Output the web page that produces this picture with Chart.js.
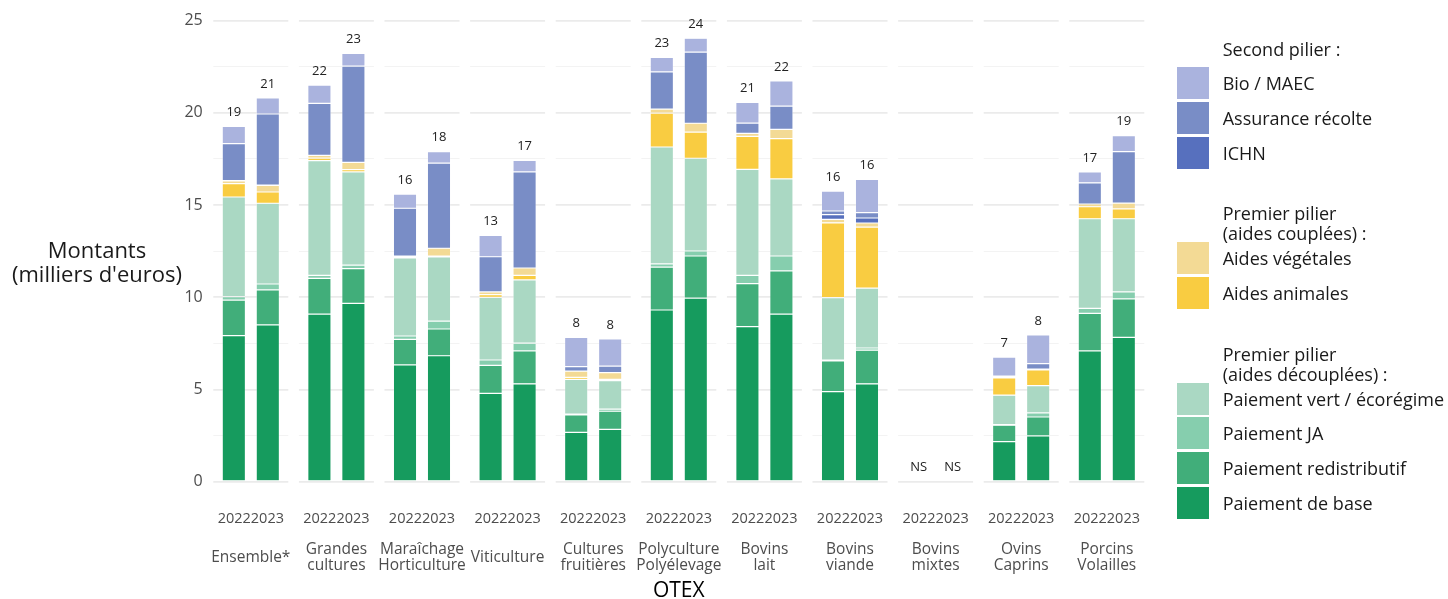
<!DOCTYPE html>
<html><head><meta charset="utf-8">
<script src="https://cdn.jsdelivr.net/npm/chart.js@4.4.1/dist/chart.umd.min.js"></script>
<style>
body{margin:0;background:#fff;}
#wrap{position:relative;width:1448px;height:599px;font-family:'Open Sans',sans-serif;overflow:hidden;}
#c{position:absolute;left:0;top:0;}
#ytitle{position:absolute;left:0;width:194px;top:237.3px;text-align:center;font-size:22px;line-height:24px;color:#1a1a1a;}
.lg{position:absolute;left:1177px;}
.lg .hd{font-size:18px;line-height:20px;color:#1a1a1a;margin-left:45.7px;white-space:nowrap;}
.lg .it{position:relative;height:32px;margin-bottom:2.7px;}
.lg .sw{position:absolute;left:0;top:0;width:32px;height:32px;}
.lg .tx{position:absolute;left:45.7px;top:0;line-height:32px;font-size:18px;color:#1a1a1a;white-space:nowrap;}
</style></head>
<body>
<div id="wrap">
<canvas id="c" width="1448" height="599"></canvas>
<div id="ytitle">Montants<br>(milliers d'euros)</div>
<div id="legend"></div>
</div>
<script>
// ---- categories & tick labels ----
const groups = [['Ensemble*'], ['Grandes','cultures'], ['Maraîchage','Horticulture'], ['Viticulture'], ['Cultures','fruitières'], ['Polyculture','Polyélevage'], ['Bovins','lait'], ['Bovins','viande'], ['Bovins','mixtes'], ['Ovins','Caprins'], ['Porcins','Volailles']];
const years = ['2022','2023'];
const labels2022 = ['19','22','16','13','8','23','21','16','NS','7','17'];
const labels2023 = ['21','23','18','17','8','24','22','16','NS','8','19'];

// ---- series values (milliers d'euros) ----
const base2022 = [7.92, 9.09, 6.33, 4.79, 2.68, 9.31, 8.41, 4.88, null, 2.17, 7.09];
const base2023 = [8.50, 9.67, 6.83, 5.31, 2.84, 9.96, 9.09, 5.31, null, 2.48, 7.83];
const redis2022 = [1.93, 1.94, 1.39, 1.52, 0.94, 2.33, 2.33, 1.67, null, 0.89, 2.04];
const redis2023 = [1.90, 1.88, 1.45, 1.78, 0.98, 2.28, 2.34, 1.82, null, 1.03, 2.08];
const ja2022 = [0.19, 0.16, 0.18, 0.29, 0.05, 0.17, 0.45, 0.05, null, 0.03, 0.27];
const ja2023 = [0.32, 0.20, 0.43, 0.42, 0.12, 0.27, 0.81, 0.12, null, 0.22, 0.38];
const vert2022 = [5.40, 6.22, 4.24, 3.40, 1.88, 6.34, 5.75, 3.38, null, 1.60, 4.86];
const vert2023 = [4.38, 5.05, 3.48, 3.43, 1.54, 5.03, 4.18, 3.25, null, 1.48, 3.97];
const animales2022 = [0.72, 0.14, 0.05, 0.14, 0.11, 1.84, 1.79, 4.06, null, 0.94, 0.65];
const animales2023 = [0.61, 0.12, 0.05, 0.25, 0.07, 1.42, 2.18, 3.31, null, 0.85, 0.53];
const vegetales2022 = [0.15, 0.15, 0.05, 0.15, 0.34, 0.22, 0.16, 0.19, null, 0.03, 0.15];
const vegetales2023 = [0.36, 0.40, 0.42, 0.40, 0.36, 0.48, 0.51, 0.22, null, 0.05, 0.32];
const ichn2022 = [0.02, 0, 0, 0, 0, 0, 0, 0.25, null, 0, 0];
const ichn2023 = [0.02, 0, 0, 0, 0, 0, 0, 0.27, null, 0, 0];
const assurance2022 = [2.00, 2.82, 2.59, 1.91, 0.24, 2.01, 0.56, 0.20, null, 0.07, 1.15];
const assurance2023 = [3.85, 5.22, 4.62, 5.21, 0.36, 3.86, 1.26, 0.29, null, 0.29, 2.79];
const bio2022 = [0.94, 0.99, 0.77, 1.16, 1.59, 0.79, 1.12, 1.08, null, 1.03, 0.59];
const bio2023 = [0.87, 0.69, 0.62, 0.63, 1.47, 0.75, 1.36, 1.81, null, 1.56, 0.86];

// series from bottom of the stack to top
const series = [
  {name:'Paiement de base', color:'#169b5e', v:[base2022, base2023]},
  {name:'Paiement redistributif', color:'#41ae7a', v:[redis2022, redis2023]},
  {name:'Paiement JA', color:'#86ceae', v:[ja2022, ja2023]},
  {name:'Paiement vert / écorégime', color:'#aad8c3', v:[vert2022, vert2023]},
  {name:'Aides animales', color:'#f9cc41', v:[animales2022, animales2023]},
  {name:'Aides végétales', color:'#f3da95', v:[vegetales2022, vegetales2023]},
  {name:'ICHN', color:'#5770be', v:[ichn2022, ichn2023]},
  {name:'Assurance récolte', color:'#798dc6', v:[assurance2022, assurance2023]},
  {name:'Bio / MAEC', color:'#aab3de', v:[bio2022, bio2023]}
];
const legendGroups = [
  {title:['Second pilier :'], items:['Bio / MAEC','Assurance récolte','ICHN'], top:39.3, gap:8},
  {title:['Premier pilier','(aides couplées) :'], items:['Aides végétales','Aides animales'], top:203.3, gap:-1},
  {title:['Premier pilier','(aides découplées) :'], items:['Paiement vert / écorégime','Paiement JA','Paiement redistributif','Paiement de base'], top:344, gap:-1.3}
];

const CP = 0.794, BP = 0.685;
const datasets = [];
series.forEach(s => {
  years.forEach((yr, k) => {
    datasets.push({label:s.name, data:s.v[k], stack:yr, backgroundColor:s.color,
      borderColor:'rgba(255,255,255,0.6)', borderWidth:0.6, borderSkipped:false,
      categoryPercentage:CP, barPercentage:BP});
  });
});

const panelGap = {
  id:'panelGap',
  beforeDatasetsDraw(chart){
    const {ctx, chartArea:a} = chart;
    const n = chart.data.labels.length, pitch = (a.right - a.left) / n, gap = pitch * 0.124;
    ctx.save(); ctx.fillStyle = '#fff';
    for (let i = 0; i <= n; i++) { const cx = a.left + i * pitch; ctx.fillRect(cx - gap/2, a.top - 6, gap, a.bottom - a.top + 12); }
    ctx.restore();
  }
};
const totals = {
  id:'totals',
  afterDatasetsDraw(chart){
    const {ctx, scales:{x, y}} = chart;
    ctx.save();
    ctx.font = "13px 'Open Sans', sans-serif"; ctx.fillStyle = '#222'; ctx.textAlign = 'center'; ctx.textBaseline = 'middle';
    [[years[0], labels2022, -1], [years[1], labels2023, 1]].forEach(([yr, labs, sgn]) => {
      const idx = chart.data.datasets.map((d, k) => d.stack === yr ? k : -1).filter(k => k >= 0);
      labs.forEach((t, i) => {
        let sum = 0;
        idx.forEach(k => { const v = chart.data.datasets[k].data[i]; if (v != null) sum += v; });
        const el = chart.getDatasetMeta(idx[0]).data[i];
        let px = el ? el.x : NaN;
        if (!isFinite(px)) px = x.getPixelForValue(i) + sgn * (x.width / chart.data.labels.length) * CP / 4;
        ctx.fillText(t, px, y.getPixelForValue(sum) - 14);
      });
    });
    ctx.restore();
  }
};

Chart.defaults.font.family = "'Open Sans', sans-serif";
new Chart(document.getElementById('c'), {
  type:'bar',
  data:{labels: groups.map(g => g.join(' ')), datasets},
  options:{
    responsive:false, animation:false,
    layout:{padding:{left:0, right:298.4, top:20.7, bottom:0}},
    plugins:{legend:{display:false}, tooltip:{enabled:false}},
    scales:{
      x:{stacked:true, offset:true, weight:0, afterFit(s){ s.height = 54.3; },
        grid:{display:false, drawTicks:false}, border:{display:false},
        ticks:{padding:28.6, color:'#4d4d4d', font:{size:14.5}, maxRotation:0, autoSkip:false, callback:() => years.join('')}},
      x2:{type:'category', labels:groups, position:'bottom', offset:true, weight:1, afterFit(s){ s.height = 63; },
        grid:{display:false, drawTicks:false}, border:{display:false},
        ticks:{padding:14, crossAlign:'center', color:'#4d4d4d', font:{size:15.5, lineHeight:1.03}, maxRotation:0, autoSkip:false},
        title:{display:true, text:'OTEX', color:'#000', font:{size:21, lineHeight:0.75}, padding:{top:0, bottom:0}}},
      y:{stacked:true, min:0, max:25, afterFit(s){ s.width = 208; },
        ticks:{stepSize:2.5, padding:5.3, color:'#4d4d4d', font:{size:16}, callback:v => v % 5 === 0 ? v : ''},
        grid:{drawTicks:false, color:c => (c.tick && c.tick.value % 5 === 0) ? '#ebebeb' : '#f3f3f3',
          lineWidth:c => (c.tick && c.tick.value % 5 === 0) ? 1.8 : 1.1},
        border:{display:false}}
    }
  },
  plugins:[panelGap, totals]
});

// ---- HTML legend built from the series ----
const lg = document.getElementById('legend');
legendGroups.forEach(g => {
  const div = document.createElement('div'); div.className = 'lg'; div.style.top = g.top + 'px';
  const hd = document.createElement('div'); hd.className = 'hd'; hd.innerHTML = g.title.join('<br>'); hd.style.marginBottom = g.gap + 'px';
  div.appendChild(hd);
  g.items.forEach(name => {
    const s = series.find(q => q.name === name);
    const it = document.createElement('div'); it.className = 'it';
    const sw = document.createElement('div'); sw.className = 'sw'; sw.style.background = s.color;
    const tx = document.createElement('div'); tx.className = 'tx'; tx.textContent = name;
    it.appendChild(sw); it.appendChild(tx); div.appendChild(it);
  });
  lg.appendChild(div);
});
</script>
</body></html>
